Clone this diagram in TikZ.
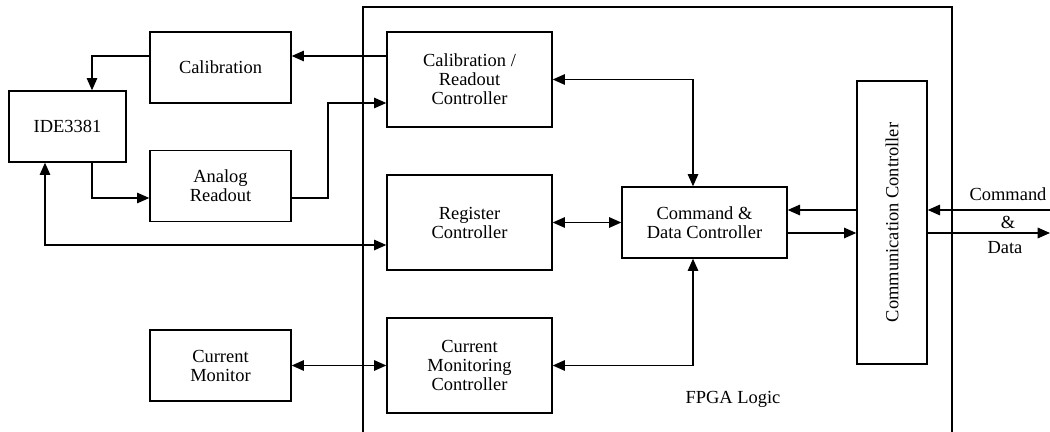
\documentclass[tikz,border=0pt]{standalone}
\usepackage{fontspec}
\setmainfont{Liberation Serif}
\usetikzlibrary{arrows.meta, positioning, calc}
\tikzstyle{block} = [rectangle, draw=black, line width=0.8pt, text centered, align=center, inner sep=1pt, font=\fontsize{10.5}{10.8}\selectfont]
\tikzstyle{ctrl} = [block, minimum width=3.3cm, minimum height=1.9cm]
\tikzstyle{side} = [block, minimum width=2.82cm, minimum height=1.42cm]
\tikzstyle{tag} = [inner sep=1pt, font=\fontsize{10.5}{10.8}\selectfont]
\tikzstyle{arrow} = [line width=0.8pt, -{Triangle[length=7pt,width=6pt]}]
\tikzstyle{dualarrow} = [line width=0.8pt, {Triangle[length=7pt,width=6pt]}-{Triangle[length=7pt,width=6pt]}]

\begin{document}
\begin{tikzpicture}[x=0.02cm, y=-0.02cm]
\useasboundingbox (0,0) rectangle (1050,432);

% FPGA frame, open at the bottom
\draw [line width=1.3pt] (363,445) -- (363,7) -- (952,7) -- (952,445);
\node (fpga) [tag] at (733,399) {FPGA Logic};

% outside blocks
\node (ide) [block, minimum width=2.34cm, minimum height=1.42cm] at (67.5,126.5) {IDE3381};
\node (calib) [side] at (220.5,67.5) {Calibration};
\node (analog) [side] at (220.5,186) {Analog\\Readout};
\node (curmon) [side] at (220.5,365.5) {Current\\Monitor};

% FPGA blocks
\node (calctrl) [ctrl] at (469.5,79.5) {Calibration /\\Readout\\Controller};
\node (regctrl) [ctrl] at (469.5,222.5) {Register\\Controller};
\node (curctrl) [ctrl] at (469.5,365.5) {Current\\Monitoring\\Controller};
\node (cmd) [block, minimum width=3.3cm, minimum height=1.42cm] at (704.5,222.5) {Command \&\\Data Controller};
\node (comm) [block, minimum width=1.4cm, minimum height=5.66cm] at (892,222.5) {\rotatebox{90}{Communication Controller}};

% external link labels
\node (cmdtag) [tag] at (1008,194) {Command};
\node (amptag) [tag] at (1008,222) {\&};
\node (datatag) [tag] at (1005,248) {Data};

% helper coordinates
\coordinate (ycal) at (0,56);
\coordinate (yrd) at (0,103);
\coordinate (yana) at (0,198);
\coordinate (yreg) at (0,245);
\coordinate (yin) at (0,210);
\coordinate (yout) at (0,233);
\coordinate (xa) at (92,0);
\coordinate (xb) at (328,0);
\coordinate (xc) at (45,0);
\coordinate (xd) at (693,0);
\coordinate (extin) at (1050,210);
\coordinate (extout) at (1050,233);

\draw [arrow] (calctrl.west |- ycal) -- (calib.east |- ycal);
\draw [arrow] (calib.west |- ycal) -| (ide.north -| xa);
\draw [arrow] (ide.south -| xa) |- (analog.west |- yana);
\draw [arrow] (analog.east |- yana) -| (xb |- yrd) -- (calctrl.west |- yrd);
\draw [dualarrow] (ide.south -| xc) |- (regctrl.west |- yreg);
\draw [dualarrow] (curmon) -- (curctrl);
\draw [dualarrow] (regctrl) -- (cmd);
\draw [dualarrow] (calctrl.east) -| (cmd.north -| xd);
\draw [dualarrow] (curctrl.east) -| (cmd.south -| xd);
\draw [arrow] (comm.west |- yin) -- (cmd.east |- yin);
\draw [arrow] (cmd.east |- yout) -- (comm.west |- yout);
\draw [arrow] (extin) -- (comm.east |- yin);
\draw [arrow] (comm.east |- yout) -- (extout);

\end{tikzpicture}
\end{document}
